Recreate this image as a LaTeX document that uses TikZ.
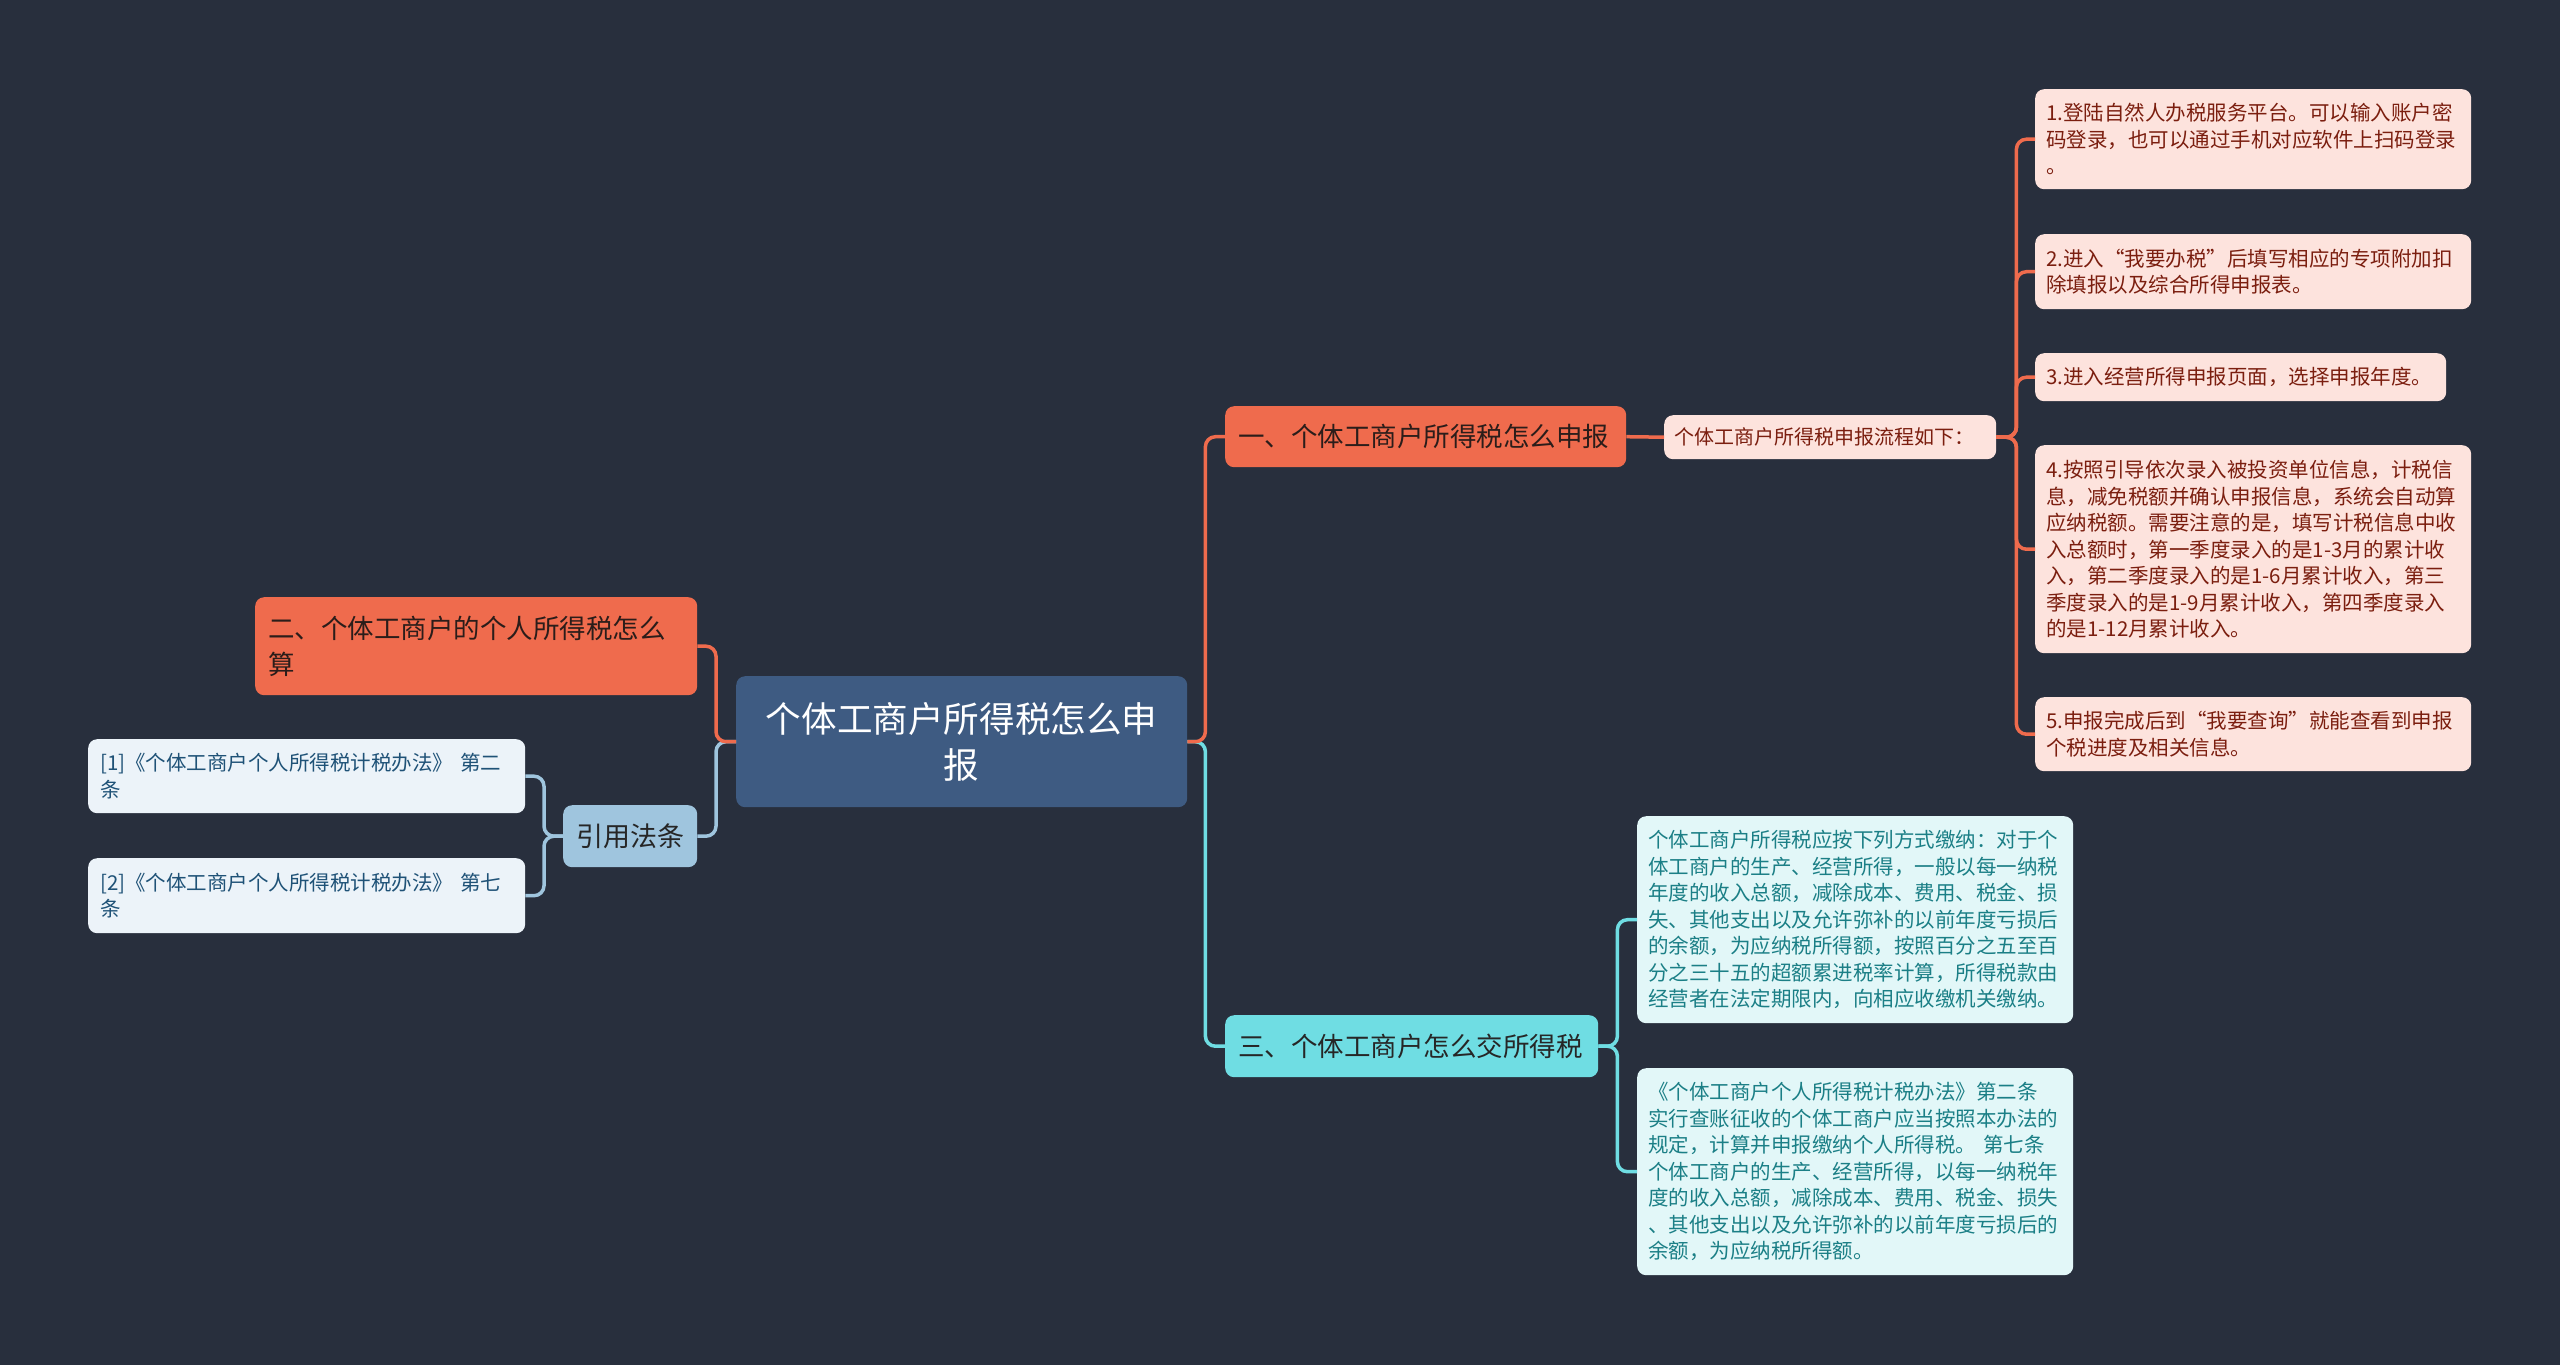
\documentclass[tikz,border=0pt]{standalone}
\usepackage{fontspec}
\setmainfont{Noto Sans CJK SC}
\setlength\parindent{0pt}
\definecolor{bg}{HTML}{282F3D}
\definecolor{rootc}{HTML}{3E5B82}
\definecolor{orangec}{HTML}{EF6B4D}
\definecolor{cyanc}{HTML}{6FDDE3}
\definecolor{lbluec}{HTML}{9FC5DE}
\definecolor{pinkfill}{HTML}{FDE3DD}
\definecolor{pinktext}{HTML}{7B1E0F}
\definecolor{cyanfill}{HTML}{E2F7F8}
\definecolor{cyantext}{HTML}{1B7F86}
\definecolor{reffill}{HTML}{ECF3F9}
\definecolor{reftext}{HTML}{1F5277}
\definecolor{darktext}{HTML}{2B1D1A}
\tikzset{
  x=1pt, y=-1pt,
  basebox/.style={rounded corners=9pt, inner ysep=0pt, anchor=north west, align=left},
  rootbox/.style={basebox, fill=rootc, text=white, align=center, inner xsep=25pt,
    font=\fontsize{35.6pt}{46pt}\selectfont},
  orangebox/.style={basebox, fill=orangec, text=darktext, inner xsep=13pt,
    font=\fontsize{26.5pt}{36pt}\selectfont},
  cyanbox/.style={basebox, fill=cyanc, text=black!85, inner xsep=13pt,
    font=\fontsize{26.5pt}{36pt}\selectfont},
  lbluebox/.style={basebox, fill=lbluec, text=black!85, align=center, inner xsep=13pt,
    font=\fontsize{27pt}{36pt}\selectfont},
  pinkleaf/.style={basebox, fill=pinkfill, text=pinktext, inner xsep=11pt,
    font=\fontsize{20.5pt}{26.5pt}\selectfont},
  cyanleaf/.style={basebox, fill=cyanfill, text=cyantext, inner xsep=11pt,
    font=\fontsize{20.5pt}{26.5pt}\selectfont},
  refleaf/.style={basebox, fill=reffill, text=reftext, inner xsep=12pt,
    font=\fontsize{20.5pt}{26.5pt}\selectfont},
  conn/.style={line width=3.5pt, rounded corners=10pt},
  oline/.style={conn, draw=orangec},
  cline/.style={conn, draw=cyanc},
  bline/.style={conn, draw=lbluec},
}
\begin{document}
\begin{tikzpicture}
\fill[bg] (0,0) rectangle (2560,1365);
\useasboundingbox (0,0) rectangle (2560,1365);

% root
\node[rootbox, text width=401pt, minimum height=131pt] (root) at (736,676)
  {个体工商户所得税怎么申\\报};

% main branches
\node[orangebox, text width=375pt, minimum height=61pt] (b1) at (1225,406)
  {一、个体工商户所得税怎么申报};
\node[cyanbox, text width=347pt, minimum height=62pt] (b3) at (1225,1015)
  {三、个体工商户怎么交所得税};
\node[orangebox, text width=416pt, minimum height=98pt, inner xsep=13pt] (b2) at (255,597)
  {二、个体工商户的个人所得税怎么\\算};
\node[lbluebox, text width=108pt, minimum height=62pt] (b4) at (563,805)
  {引用法条};

% sub node
\node[pinkleaf, text width=312pt, minimum height=44pt, inner xsep=10pt,
  font=\fontsize{20pt}{26pt}\selectfont] (s1) at (1664,415)
  {个体工商户所得税申报流程如下：};

% right leaves
\node[pinkleaf, text width=414pt, minimum height=100pt] (l1) at (2035,89)
  {1.登陆自然人办税服务平台。可以输入账户密\\码登录，也可以通过手机对应软件上扫码登录\\。};
\node[pinkleaf, text width=414pt, minimum height=75pt] (l2) at (2035,234)
  {2.进入“我要办税”后填写相应的专项附加扣\\除填报以及综合所得申报表。};
\node[pinkleaf, text width=389pt, minimum height=48pt] (l3) at (2035,353)
  {3.进入经营所得申报页面，选择申报年度。};
\node[pinkleaf, text width=414pt, minimum height=208pt] (l4) at (2035,445)
  {4.按照引导依次录入被投资单位信息，计税信\\息，减免税额并确认申报信息，系统会自动算\\应纳税额。需要注意的是，填写计税信息中收\\入总额时，第一季度录入的是1-3月的累计收\\入，第二季度录入的是1-6月累计收入，第三\\季度录入的是1-9月累计收入，第四季度录入\\的是1-12月累计收入。};
\node[pinkleaf, text width=414pt, minimum height=74pt] (l5) at (2035,697)
  {5.申报完成后到“我要查询”就能查看到申报\\个税进度及相关信息。};

% cyan leaves
\node[cyanleaf, text width=414pt, minimum height=207pt] (c1) at (1637,816)
  {个体工商户所得税应按下列方式缴纳：对于个\\体工商户的生产、经营所得，一般以每一纳税\\年度的收入总额，减除成本、费用、税金、损\\失、其他支出以及允许弥补的以前年度亏损后\\的余额，为应纳税所得额，按照百分之五至百\\分之三十五的超额累进税率计算，所得税款由\\经营者在法定期限内，向相应收缴机关缴纳。};
\node[cyanleaf, text width=414pt, minimum height=207pt] (c2) at (1637,1068)
  {《个体工商户个人所得税计税办法》第二条\\实行查账征收的个体工商户应当按照本办法的\\规定，计算并申报缴纳个人所得税。~第七条\\个体工商户的生产、经营所得，以每一纳税年\\度的收入总额，减除成本、费用、税金、损失\\、其他支出以及允许弥补的以前年度亏损后的\\余额，为应纳税所得额。};

% reference leaves
\node[refleaf, text width=413pt, minimum height=74pt] (r1) at (88,739)
  {[1]《个体工商户个人所得税计税办法》~第二\\条};
\node[refleaf, text width=413pt, minimum height=75pt] (r2) at (88,858)
  {[2]《个体工商户个人所得税计税办法》~第七\\条};

% connectors
\draw[cline] (root.east) -- ++(18,0) |- (b3.west);
\draw[oline] (root.east) -- ++(18,0) |- (b1.west);
\draw[bline] (root.west) -- ++(-20,0) |- (b4.east);
\draw[oline] (root.west) -- ++(-20,0) |- (b2.east);
\draw[oline] (b1.east) -- (s1.west);
\foreach \n in {l1,l2,l3,l4,l5}
  \draw[oline] (s1.east) -- ++(20,0) |- (\n.west);
\foreach \n in {c1,c2}
  \draw[cline] (b3.east) -- ++(19,0) |- (\n.west);
\foreach \n in {r1,r2}
  \draw[bline] (b4.west) -- ++(-19,0) |- (\n.east);
\end{tikzpicture}
\end{document}
